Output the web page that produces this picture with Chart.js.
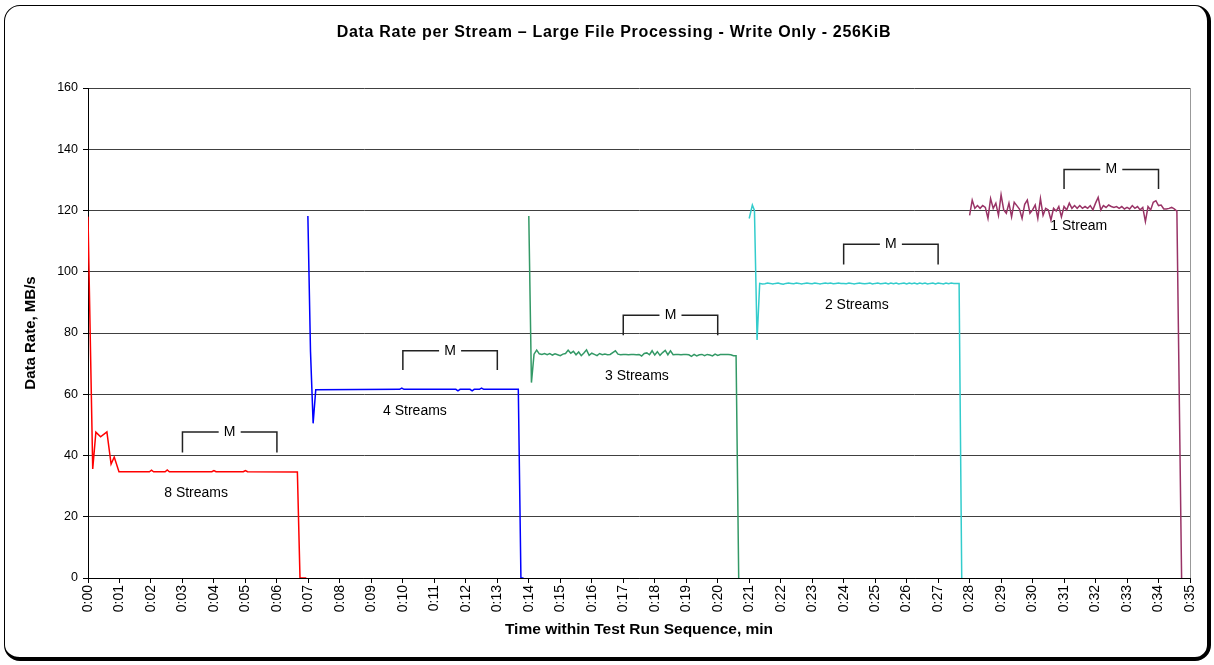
<!DOCTYPE html>
<html>
<head>
<meta charset="utf-8">
<script src="https://cdn.jsdelivr.net/npm/chart.js@4.4.1/dist/chart.umd.min.js"></script>
<style>
  body { margin: 0; background: #fff; }
  #frame { position: absolute; left: 4px; top: 5px; width: 1202px; height: 651px;
           border: 1px solid #000; border-right-width: 4px; border-bottom-width: 4px;
           border-radius: 16px; }
  #c { position: absolute; left: 0; top: 0; }
</style>
</head>
<body>
<div id="frame"></div>
<canvas id="c" width="1214" height="665"></canvas>
<script>
// time values are in seconds from the start of the run, samples every 5 s
const STEP = 5;

// 8 streams (flat stretches given by their end points)
const t8 = [0, 9, 15, 24, 36, 44, 50, 59, 117, 121, 125, 147, 151, 155, 236, 240, 244, 296, 300, 304, 399, 404, 416];
const v8 = [118, 35.6, 47.6, 46.1, 47.7, 37.2, 39.5, 34.7, 34.7, 35.2, 34.7, 34.7, 35.3, 34.7, 34.7, 35.1, 34.7, 34.7, 35.1, 34.7, 34.6, 0, 0];

// 4 streams
const t4 = [419, 424, 429, 434, 594, 598, 602, 701, 705, 709, 728, 732, 736, 746, 750, 754, 820, 825, 830];
const v4 = [118.2, 74.0, 50.5, 61.5, 61.6, 62.0, 61.6, 61.6, 61.1, 61.6, 61.6, 61.1, 61.6, 61.6, 62.0, 61.6, 61.6, 0, 0];

// 3 streams
const t3Head = [840, 845];
const v3Head = [118.2, 63.8];
const t3Start = 850;
const v3 = [73.1, 74.4, 73.2, 73.0, 73.3, 72.9, 73.3, 72.8, 73.2, 72.9, 72.6, 73.1, 73.3, 74.4, 73.4, 74.0, 72.9, 73.8, 72.6, 73.5,
            74.5, 72.7, 73.4, 73.0, 72.6, 73.3, 72.9, 73.1, 72.9, 73.0, 73.6, 74.2, 73.1, 72.9, 73.0, 73.0, 72.9, 73.0, 73.0, 72.9,
            73.0, 72.5, 73.3, 73.5, 72.9, 74.2, 72.8, 73.9, 72.7, 73.6, 74.3, 72.9, 74.2, 72.9, 73.0, 73.0, 72.9, 73.0, 73.0, 72.9,
            72.4, 73.0, 72.5, 72.9, 73.0, 72.6, 73.0, 72.8, 72.5, 73.1, 72.7, 73.0, 73.0, 73.0, 73.0, 72.9, 72.6, 72.6];
const t3Tail = [1240];
const v3Tail = [0];

// 2 streams
const t2Head = [1260, 1266, 1270, 1275];
const v2Head = [117.4, 121.8, 120.0, 77.7];
const t2Start = 1280;
const v2 = [96.2, 96.0, 96.1, 96.3, 96.2, 96.0, 96.2, 96.3, 96.1, 95.9, 96.2, 96.3, 96.2, 96.1, 96.3, 96.2, 96.0, 96.2, 96.3, 96.2,
            96.1, 96.3, 96.2, 96.0, 96.2, 96.3, 96.2, 96.3, 96.1, 96.2, 96.3, 96.2, 96.2, 96.1, 96.3, 96.2, 96.0, 96.2, 96.3, 96.2,
            96.1, 96.2, 96.3, 96.0, 96.2, 96.3, 96.1, 96.2, 96.3, 96.0, 96.3, 96.1, 96.3, 96.0, 96.2, 96.3, 96.0, 96.3, 96.1, 96.3,
            96.0, 96.3, 96.1, 96.3, 96.0, 96.2, 96.3, 96.0, 96.3, 96.2, 96.0, 96.3, 96.1, 96.3, 96.2, 96.2, 96.2];
const t2Tail = [1665];
const v2Tail = [0];

// 1 stream
const t1Start = 1680;
const v1 = [118.4, 123.4, 120.7, 121.6, 120.7, 121.6, 121.0, 117.4, 123.9, 120.7, 122.4, 118.4, 125.1, 120.2, 119.1, 122.4, 117.9, 122.7, 121.6, 120.5,
            117.4, 122.0, 123.4, 119.1, 120.2, 121.8, 117.4, 123.9, 118.4, 120.7, 120.2, 116.9, 120.7, 119.8, 121.3, 117.9, 121.3, 120.2, 122.4, 120.7,
            121.6, 120.7, 121.6, 120.7, 121.3, 120.7, 121.6, 120.2, 122.4, 124.3, 120.2, 121.6, 121.0, 121.8, 121.3, 121.0, 121.3, 120.7, 121.3, 120.5,
            121.0, 120.5, 121.6, 120.7, 121.3, 120.2, 121.0, 116.4, 121.3, 120.2, 122.7, 123.2, 121.6, 121.8, 120.5, 120.5, 120.7, 121.0, 120.5, 119.8];
const t1Tail = [2084];
const v1Tail = [0];

// "M" brackets and segment labels
const bracketStart = [180, 600, 1020, 1440, 1860];
const bracketEnd = [360, 780, 1200, 1620, 2040];
const bracketTop = [47.7, 74.2, 85.8, 109.0, 133.4];
const bracketFoot = [41.0, 67.9, 79.3, 102.4, 127.0];
const labelText = ['8 Streams', '4 Streams', '3 Streams', '2 Streams', '1 Stream'];
const labelT = [206, 623, 1046, 1465, 1888];
const labelV = [27.8, 54.5, 66.0, 89.1, 114.9];

function pairs(ts, vs) {
  return ts.map((t, i) => ({ x: t, y: vs[i] }));
}
function sampled(start, vs) {
  return vs.map((v, i) => ({ x: start + i * STEP, y: v }));
}

const FONT = '"Liberation Sans", Arial, sans-serif';
Chart.defaults.font.family = FONT;
Chart.defaults.color = '#000';

const decor = {
  id: 'decor',
  beforeDatasetsDraw(chart) {
    const { ctx, chartArea: a } = chart;
    ctx.save();
    ctx.strokeStyle = '#999';
    ctx.lineWidth = 1;
    ctx.beginPath();
    ctx.moveTo(a.right + 0.5, a.top);
    ctx.lineTo(a.right + 0.5, a.bottom);
    ctx.stroke();
    ctx.restore();
  },
  afterDraw(chart) {
    const { ctx } = chart;
    const xs = chart.scales.x, ys = chart.scales.y;
    ctx.save();
    ctx.fillStyle = '#000';
    ctx.textAlign = 'center';
    ctx.textBaseline = 'middle';
    ctx.font = 'bold 16px ' + FONT;
    ctx.letterSpacing = '0.7px';
    ctx.fillText('Data Rate per Stream \u2013 Large File Processing - Write Only - 256KiB', 614, 33);
    ctx.letterSpacing = '0px';

    ctx.font = '14px ' + FONT;
    labelText.forEach((s, i) => {
      ctx.fillText(s, xs.getPixelForValue(labelT[i]), ys.getPixelForValue(labelV[i]));
    });

    ctx.strokeStyle = '#222';
    ctx.lineWidth = 1.5;
    ctx.font = '14px ' + FONT;
    bracketStart.forEach((s, i) => {
      const x0 = xs.getPixelForValue(s), x1 = xs.getPixelForValue(bracketEnd[i]);
      const yT = ys.getPixelForValue(bracketTop[i]), yF = ys.getPixelForValue(bracketFoot[i]);
      const xm = (x0 + x1) / 2;
      ctx.beginPath();
      ctx.moveTo(x0, yF); ctx.lineTo(x0, yT); ctx.lineTo(xm - 11, yT);
      ctx.moveTo(xm + 11, yT); ctx.lineTo(x1, yT); ctx.lineTo(x1, yF);
      ctx.stroke();
      ctx.fillText('M', xm, yT);
    });
    ctx.restore();
  }
};

function lineSet(data, color) {
  return { data, borderColor: color, borderWidth: 1.5, pointRadius: 0, tension: 0, fill: false };
}

new Chart(document.getElementById('c'), {
  type: 'line',
  data: {
    datasets: [
      lineSet(pairs(t8, v8), '#ff0000'),
      lineSet(pairs(t4, v4), '#0000ff'),
      lineSet([...pairs(t3Head, v3Head), ...sampled(t3Start, v3), ...pairs(t3Tail, v3Tail)], '#339966'),
      lineSet([...pairs(t2Head, v2Head), ...sampled(t2Start, v2), ...pairs(t2Tail, v2Tail)], '#33cccc'),
      lineSet([...sampled(t1Start, v1), ...pairs(t1Tail, v1Tail)], '#993366')
    ]
  },
  options: {
    responsive: false,
    animation: false,
    devicePixelRatio: 1,
    layout: { padding: { left: 18, right: 24, top: 88, bottom: 22 } },
    plugins: { legend: { display: false }, tooltip: { enabled: false } },
    scales: {
      x: {
        type: 'linear', min: 0, max: 2100,
        afterFit(s) { s.height = 65; },
        ticks: {
          stepSize: 60, autoSkip: false, maxRotation: 90, minRotation: 90,
          padding: 2, font: { size: 14 },
          callback: v => '0:' + String(Math.round(v / 60)).padStart(2, '0')
        },
        grid: { drawOnChartArea: false, tickLength: 5, tickColor: '#000' },
        border: { color: '#000', width: 1 },
        title: { display: true, text: 'Time within Test Run Sequence, min', font: { size: 15.5, weight: 'bold' }, padding: { top: 4, bottom: 4 } }
      },
      y: {
        min: 0, max: 160,
        afterFit(s) { s.width = 70; },
        ticks: { stepSize: 20, padding: 5, font: { size: 12.5 } },
        grid: { color: '#404040', tickLength: 5, tickColor: '#000' },
        border: { color: '#000', width: 1 },
        title: { display: true, text: 'Data Rate, MB/s', font: { size: 15, weight: 'bold' }, padding: { top: 4, bottom: 4 } }
      }
    }
  },
  plugins: [decor]
});
</script>
</body>
</html>
